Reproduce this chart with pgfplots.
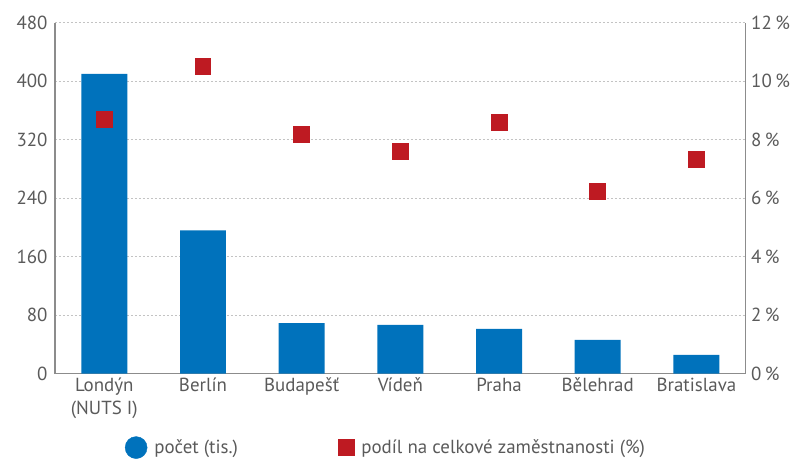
\documentclass[border=0pt]{standalone}
\usepackage{pgfplots}
\pgfplotsset{compat=1.18}
\usepackage{fontspec}
\setmainfont{PT Sans}
\definecolor{barblue}{RGB}{0,114,188}
\definecolor{mred}{RGB}{190,26,34}
\definecolor{txt}{RGB}{90,90,90}
\definecolor{gridc}{RGB}{195,195,195}
\definecolor{axc}{RGB}{140,140,140}
\begin{document}
\begin{tikzpicture}
\begin{axis}[
  name=ax,
  scale only axis, width=691bp, height=351bp,
  xmin=-0.5, xmax=6.5, ymin=0, ymax=480,
  ytick={0,80,...,480},
  xtick={0,...,6},
  xticklabels={{Londýn\\(NUTS I)},Berlín,Budapešť,Vídeň,Praha,Bělehrad,Bratislava},
  xticklabel style={align=center, font=\fontsize{19}{22.7}\selectfont, text=txt, yshift=-1bp},
  yticklabel style={font=\fontsize{19}{20}\selectfont, text=txt, xshift=-4bp},
  /pgf/number format/assume math mode=true,
  axis x line*=bottom, axis y line*=left,
  axis line style={axc, line width=1.3bp},
  major tick length=0pt,
  ymajorgrids, grid style={gridc, dash pattern=on 2bp off 2bp, line width=0.8bp},
]
\addplot[ybar, fill=barblue, draw=none, bar width=46bp] coordinates {
(0,410) (1,196) (2,69) (3,66.5) (4,61) (5,46) (6,25.5)};
\end{axis}
\begin{axis}[
  scale only axis, width=691bp, height=351bp,
  xmin=-0.5, xmax=6.5, ymin=0, ymax=12,
  axis y line*=right, axis x line=none,
  ytick={0,2,...,12},
  yticklabel={\pgfmathprintnumber{\tick}\hspace{0.18em}\%},
  yticklabel style={font=\fontsize{19}{20}\selectfont, text=txt, xshift=2bp},
  /pgf/number format/assume math mode=true,
  axis line style={axc, line width=1.3bp},
  major tick length=0pt,
  legend columns=2,
  legend style={at={(0.101,-0.211)}, anchor=west, draw=none, fill=none,
    font=\fontsize{19}{20}\selectfont, text=txt, inner sep=0pt,
    /tikz/every odd column/.append style={column sep=5bp},
    /tikz/every even column/.append style={column sep=98bp}},
  legend cell align=left,
]
\addlegendimage{legend image code/.code={\fill[barblue] (4bp,0bp) circle (11bp);}}
\addlegendentry{počet (tis.)}
\addplot[only marks, mark=square*, mark size=8bp, color=mred, mark options={line width=0pt},
  legend image code/.code={\fill[mred] (-4bp,-8bp) rectangle (12bp,8bp);}] coordinates {
(0,8.70) (1,10.49) (2,8.19) (3,7.58) (4,8.60) (5,6.21) (6,7.31)};
\addlegendentry{podíl na celkové zaměstnanosti (\%)}
\end{axis}
\pgfresetboundingbox
\path (ax.south west) ++(-55bp,-87.3bp) coordinate (bl);
\path (ax.north east) ++(53.3bp,22.7bp) coordinate (tr);
\path (bl) rectangle (tr);
\end{tikzpicture}
\end{document}
